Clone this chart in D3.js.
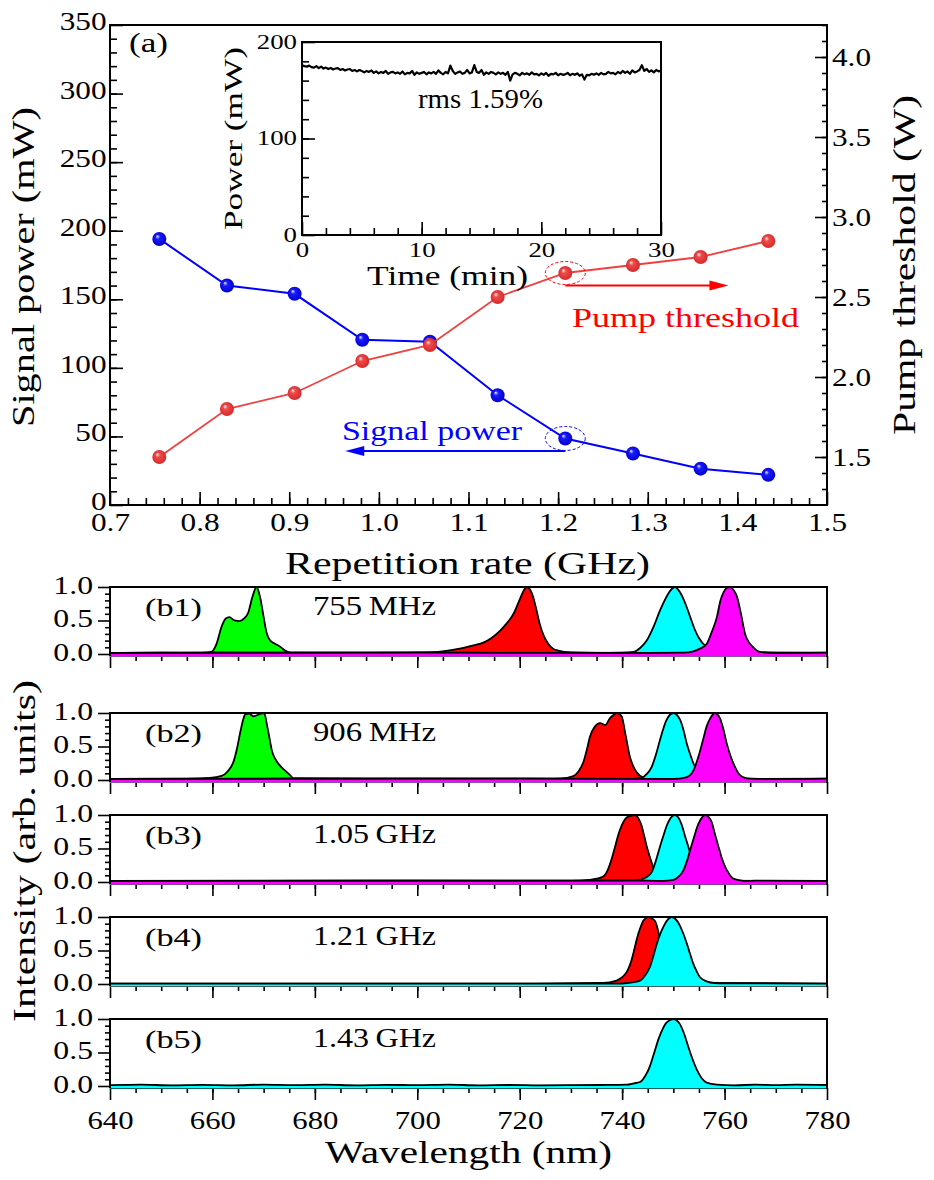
<!DOCTYPE html>
<html><head><meta charset="utf-8">
<script src="https://cdn.jsdelivr.net/npm/d3@7"></script>
<style>
body{margin:0;background:#fff;}
svg text{font-family:"Liberation Serif",serif;}
.tick line{stroke:#000;stroke-width:1.6;}
</style></head><body>
<svg id="c" width="934" height="1180"></svg>
<script>
// ---------------- DATA ----------------
const repRate = [0.755, 0.8305, 0.906, 0.9815, 1.057, 1.1325, 1.208, 1.2835, 1.359, 1.4345];
const signalPower = [194, 160, 154, 120.5, 119, 80, 48.5, 37.5, 26.5, 22];
const pumpThreshold = [1.50, 1.80, 1.90, 2.10, 2.20, 2.50, 2.65, 2.70, 2.75, 2.85];

const xTicksA = [0.7, 0.8, 0.9, 1.0, 1.1, 1.2, 1.3, 1.4, 1.5];
const xTickLabelsA = ["0.7","0.8","0.9","1.0","1.1","1.2","1.3","1.4","1.5"];
const yTicksA = [0, 50, 100, 150, 200, 250, 300, 350];
const yTickLabelsA = ["0","50","100","150","200","250","300","350"];
const y2TicksA = [1.5, 2.0, 2.5, 3.0, 3.5, 4.0];
const y2TickLabelsA = ["1.5","2.0","2.5","3.0","3.5","4.0"];

// inset: power stability (mW) sampled every 0.2 min over 30 min
const insetStep = 0.2;
const insetPower = [
 176,175,174.5,175.5,174,173.5,175,173,174.5,172.5,
 173.5,172,173,171.5,172.5,173,171,172,170.5,171.5,
 172,170,171,169.5,171,170,168.5,170,169,170.5,
 168,169.5,167.5,169,168,170,167,168.5,169,167.5,
 168.5,167,169.5,166.5,168,167.5,170,166,168.5,167,
 168,169,166.5,168.5,167.5,169,167,170.5,168,166.5,
 169,167.5,175.5,170,167,168.5,169.5,167,168,171,
 167.5,168.5,176,169,168,171,166,168.5,167,169,
 168,166.5,168.5,167,168,166,169,160,166.5,168,
 167,165.5,168,166.5,167.5,166,168.5,166.5,167,165.5,
 167.5,166,168,165,167,166.5,168,165.5,167,166,
 166.5,168,165.5,167,166,167.5,165,166.5,161,166,
 165.5,167,166,167.5,166,168,166.5,167,169,167.5,
 168,166.5,169,167.5,170,168,169.5,167,170.5,168.5,
 169.5,171,176,170,172,169,170.5,168.5,171,169.5,
 170.5];
const insetXTicks = [0, 10, 20, 30];
const insetXTickLabels = ["0","10","20","30"];
const insetYTicks = [0, 100, 200];
const insetYTickLabels = ["0","100","200"];

// spectra: [wavelength nm, normalized intensity]
const b1Green = [[640,0.015],[650,0.02],[658,0.015],[659.8,0.03],[660.8,0.15],[661.8,0.41],[662.6,0.53],[663.3,0.55],[664.3,0.5],[665.3,0.49],[666.2,0.53],[667,0.62],[667.8,0.85],[668.6,1.0],[669.3,0.85],[670,0.55],[670.6,0.31],[671.3,0.2],[672.3,0.15],[673.2,0.11],[674.2,0.05],[675.2,0.02],[690,0.015],[720,0.02],[750,0.015],[780,0.02]];
const b1Red = [[640,0.015],[660,0.02],[680,0.015],[695,0.02],[702,0.025],[705,0.04],[708.3,0.08],[711,0.13],[712.9,0.17],[714.5,0.24],[716.2,0.35],[717.5,0.46],[718.8,0.6],[720.1,0.83],[720.8,0.95],[721.4,1.0],[722.4,0.9],[723.2,0.68],[723.9,0.45],[724.7,0.27],[725.6,0.15],[726.5,0.08],[727.5,0.05],[730,0.025],[740,0.015],[760,0.02],[780,0.015]];
const b1Cyan = [[640,0.015],[700,0.02],[735,0.015],[740,0.02],[742.2,0.03],[743.5,0.09],[744.8,0.2],[746.1,0.4],[747.4,0.65],[748.3,0.8],[749,0.9],[750.3,1.0],[751.6,0.88],[752.5,0.72],[753.3,0.55],[754.1,0.38],[754.9,0.25],[756.5,0.1],[758,0.04],[760,0.02],[780,0.015]];
const b1Magenta = [[640,0.015],[700,0.02],[745,0.015],[752,0.02],[753.9,0.04],[755.2,0.08],[756.5,0.15],[757.5,0.33],[758.5,0.55],[759.2,0.8],[759.8,0.92],[760.5,0.99],[761.1,1.0],[761.7,0.96],[762.4,0.86],[763.2,0.6],[764,0.3],[764.8,0.17],[765.6,0.1],[766.9,0.03],[770,0.015],[780,0.02]];

const b2Green = [[640,0.015],[655,0.02],[659.5,0.03],[661.8,0.06],[663,0.13],[664.1,0.27],[664.8,0.47],[665.4,0.7],[666,0.9],[666.4,0.98],[667.2,0.99],[668,0.95],[668.8,0.97],[669.5,0.99],[670.1,1.0],[670.7,0.8],[671.2,0.6],[671.6,0.44],[672.3,0.31],[672.9,0.24],[673.6,0.18],[674.2,0.14],[675.2,0.07],[675.8,0.025],[690,0.015],[720,0.02],[780,0.015]];
const b2Red = [[640,0.015],[700,0.02],[725,0.015],[727.9,0.02],[730.5,0.06],[731.5,0.13],[732.4,0.26],[733.1,0.45],[733.7,0.64],[734.7,0.8],[735.7,0.85],[736.7,0.82],[737.6,0.92],[738.3,0.97],[738.9,1.0],[739.9,0.95],[740.6,0.7],[741.5,0.35],[742.2,0.2],[742.8,0.12],[744.1,0.04],[746,0.02],[760,0.015],[780,0.02]];
const b2Cyan = [[640,0.015],[720,0.02],[742,0.015],[743.8,0.03],[744.8,0.09],[745.8,0.2],[746.6,0.38],[747.4,0.6],[748.1,0.78],[748.7,0.9],[750,1.0],[751.3,0.9],[752,0.74],[752.6,0.55],[753.3,0.38],[753.9,0.25],[755.2,0.09],[756.5,0.04],[758,0.02],[780,0.015]];
const b2Magenta = [[640,0.015],[720,0.02],[750,0.015],[752.5,0.04],[753.9,0.14],[754.9,0.35],[755.8,0.6],[756.5,0.8],[757.2,0.92],[758.1,1.0],[759.1,0.92],[759.8,0.75],[760.4,0.55],[761.2,0.35],[762,0.2],[762.8,0.09],[763.7,0.04],[765,0.02],[770,0.015],[780,0.02]];

const b3Red = [[640,0.015],[700,0.02],[730,0.015],[733.7,0.03],[735,0.05],[736.3,0.08],[737.2,0.18],[737.9,0.33],[738.6,0.52],[739.2,0.69],[739.9,0.84],[740.6,0.94],[741.3,0.98],[741.9,0.99],[742.4,1.0],[742.8,0.99],[743.3,0.93],[743.8,0.84],[744.3,0.69],[744.8,0.53],[745.3,0.4],[745.8,0.28],[746.3,0.18],[746.8,0.1],[747.8,0.04],[750,0.02],[780,0.015]];
const b3Cyan = [[640,0.015],[735,0.02],[742,0.02],[743.5,0.03],[744.7,0.07],[745.8,0.15],[746.6,0.32],[747.4,0.53],[748.1,0.7],[748.7,0.84],[749.5,0.96],[750.3,1.0],[751,0.96],[751.6,0.86],[752.3,0.68],[752.9,0.53],[753.4,0.4],[753.9,0.28],[754.6,0.17],[755.2,0.1],[756.5,0.04],[758,0.02],[780,0.015]];
const b3Magenta = [[640,0.015],[745,0.02],[748,0.015],[750,0.03],[751,0.08],[752,0.18],[752.6,0.3],[753.3,0.48],[754,0.66],[754.6,0.81],[755.3,0.93],[756.3,1.0],[756.9,0.97],[757.5,0.89],[758.1,0.72],[758.8,0.53],[759.4,0.37],[760.1,0.23],[760.9,0.12],[761.7,0.05],[763,0.025],[764.3,0.015],[766,0.02],[780,0.015]];

const b4Red = [[640,0.005],[720,0.005],[736.3,0.015],[738.9,0.05],[740,0.1],[740.9,0.18],[741.6,0.3],[742.2,0.46],[742.7,0.62],[743.2,0.76],[743.7,0.87],[744.1,0.94],[744.6,0.98],[745.1,1.0],[745.8,0.98],[746.4,0.94],[747,0.8],[747.4,0.65],[748.3,0.35],[749.2,0.15],[750.5,0.05],[752,0.02],[780,0.005]];
const b4Cyan = [[640,0.005],[700,0.005],[738.9,0.005],[741,0.015],[743.5,0.05],[744.5,0.13],[745.4,0.25],[746.1,0.42],[746.8,0.61],[747.4,0.74],[748.1,0.86],[748.9,0.96],[749.7,1.0],[750.4,0.97],[751,0.91],[751.8,0.78],[752.6,0.61],[753.3,0.44],[753.9,0.3],[754.6,0.18],[755.2,0.1],[756.5,0.04],[758,0.015],[759.8,0.01],[780,0.005]];

const b5Cyan = [[640,0.012],[646,0.02],[652,0.01],[658,0.018],[664,0.01],[670,0.02],[676,0.012],[682,0.02],[688,0.01],[694,0.018],[700,0.012],[706,0.02],[712,0.01],[718,0.015],[724,0.01],[730,0.012],[736,0.015],[740.9,0.02],[742.3,0.04],[743.5,0.06],[744.5,0.15],[745.4,0.29],[746.2,0.48],[747.1,0.7],[747.9,0.85],[748.7,0.95],[750,1.0],[751.3,0.92],[752.1,0.78],[752.9,0.59],[753.7,0.41],[754.6,0.24],[755.5,0.12],[756.5,0.05],[758.5,0.02],[762,0.01],[766,0.02],[770,0.012],[774,0.02],[780,0.015]];

const panelLabels = ["(b1)","(b2)","(b3)","(b4)","(b5)"];
const panelRates = ["755\u2009MHz","906\u2009MHz","1.05\u2009GHz","1.21\u2009GHz","1.43\u2009GHz"];
const panelSpectra = [
  [["g",b1Green],["r",b1Red],["c",b1Cyan],["m",b1Magenta]],
  [["g",b2Green],["r",b2Red],["c",b2Cyan],["m",b2Magenta]],
  [["r",b3Red],["c",b3Cyan],["m",b3Magenta]],
  [["r",b4Red],["c",b4Cyan]],
  [["c",b5Cyan]]
];
const wlTicks = [640, 660, 680, 700, 720, 740, 760, 780];
const wlTickLabels = ["640","660","680","700","720","740","760","780"];
const intTicks = [0.0, 0.5, 1.0];
const intTickLabels = ["0.0","0.5","1.0"];

// ---------------- DRAWING ----------------
const FONT = "'Liberation Serif', serif";
const svg = d3.select("#c").attr("font-family", FONT);
svg.append("rect").attr("width",934).attr("height",1180).attr("fill","#fff");
const defs = svg.append("defs");
const colorMap = {g:"#00ff00", r:"#ff0000", c:"#00ffff", m:"#ff00ff"};

function ballGrad(id, c0, c1, c2){
  const g = defs.append("radialGradient").attr("id",id)
    .attr("cx","50%").attr("cy","50%").attr("r","55%").attr("fx","35%").attr("fy","30%");
  g.append("stop").attr("offset","0%").attr("stop-color",c0);
  g.append("stop").attr("offset","30%").attr("stop-color",c1);
  g.append("stop").attr("offset","100%").attr("stop-color",c2);
}
ballGrad("gBlue","#f0f0ff","#1a1aff","#0000c8");
ballGrad("gRed","#fff0f0","#f04a4a","#d02828");

function label(g, str, x, y, size, width, opts){
  opts = opts || {};
  const t = g.append("text").text(str).attr("font-family", FONT).attr("font-size", size).attr("fill", opts.fill || "#000");
  if (opts.rotate) t.attr("transform", `translate(${x},${y}) rotate(-90)`);
  else t.attr("x", x).attr("y", y);
  if (width) t.attr("textLength", width).attr("lengthAdjust", "spacingAndGlyphs");
  return t;
}
function styleTicks(ag, size, sx, dx, dy, anchor){
  ag.attr("font-family", FONT).attr("font-size", size);
  ag.select(".domain").remove();
  ag.selectAll(".tick text").each(function(){
    d3.select(this).attr("x",0).attr("y",0).attr("dy",null).attr("text-anchor",anchor)
      .attr("fill","#000").attr("transform",`translate(${dx},${dy}) scale(${sx},1)`);
  });
}
function minorAxis(g, axisFn, scale, vals, size, tx, ty){
  g.append("g").attr("transform",`translate(${tx},${ty})`)
    .call(axisFn(scale).tickValues(vals).tickSize(size).tickFormat(""))
    .call(a=>a.select(".domain").remove());
}

// ---- panel (a) ----
const L = 110, R = 827, T = 25, B = 505;
const xA = d3.scaleLinear().domain([0.7,1.5]).range([L,R]);
const yL = d3.scaleLinear().domain([0,350]).range([B,T]);
const yR = d3.scaleLinear().domain([1.2,4.2]).range([B,T]);
const gA = svg.append("g");

minorAxis(gA, d3.axisBottom, xA, d3.range(0.72,1.5,0.02), -7, 0, B);
const axB = gA.append("g").attr("transform",`translate(0,${B})`)
  .call(d3.axisBottom(xA).tickValues(xTicksA).tickSizeInner(-13).tickSizeOuter(0).tickFormat((d,i)=>xTickLabelsA[i]));
styleTicks(axB, 25, 1.25, 0, 26, "middle");

minorAxis(gA, d3.axisLeft, yL, d3.range(10,350,10), -7, L, 0);
const axL = gA.append("g").attr("transform",`translate(${L},0)`)
  .call(d3.axisLeft(yL).tickValues(yTicksA).tickSizeInner(-13).tickSizeOuter(0).tickFormat((d,i)=>yTickLabelsA[i]));
styleTicks(axL, 25, 1.25, -3.5, 4.5, "end");

minorAxis(gA, d3.axisRight, yR, d3.range(1.3,4.2,0.1), -5, R, 0);
const axR = gA.append("g").attr("transform",`translate(${R},0)`)
  .call(d3.axisRight(yR).tickValues(y2TicksA).tickSizeInner(-12).tickSizeOuter(0).tickFormat((d,i)=>y2TickLabelsA[i]));
styleTicks(axR, 25, 1.25, 5, 8.5, "start");

gA.append("rect").attr("x",L).attr("y",T).attr("width",R-L).attr("height",B-T)
  .attr("fill","none").attr("stroke","#000").attr("stroke-width",2);

label(gA, "Signal power (mW)", 34, 427, 32, 320, {rotate:true});
label(gA, "Pump threshold (W)", 915, 435, 32, 340, {rotate:true});
label(gA, "Repetition rate (GHz)", 285, 574, 32, 365);
label(gA, "(a)", 129, 52, 27, 39);

// series
const blueLine = d3.line().x((d,i)=>xA(repRate[i])).y(d=>yL(d));
const redLine = d3.line().x((d,i)=>xA(repRate[i])).y(d=>yR(d));
gA.append("path").attr("d",blueLine(signalPower)).attr("fill","none").attr("stroke","#0000ff").attr("stroke-width",2);
gA.selectAll(".bb").data(signalPower).enter().append("circle")
  .attr("cx",(d,i)=>xA(repRate[i])).attr("cy",d=>yL(d)).attr("r",7).attr("fill","url(#gBlue)");
gA.append("path").attr("d",redLine(pumpThreshold)).attr("fill","none").attr("stroke","#f04040").attr("stroke-width",1.8);
gA.selectAll(".rb").data(pumpThreshold).enter().append("circle")
  .attr("cx",(d,i)=>xA(repRate[i])).attr("cy",d=>yR(d)).attr("r",7).attr("fill","url(#gRed)");

// annotations
const pxR = xA(repRate[6]), pyR = yR(pumpThreshold[6]);
const pxB = xA(repRate[6]), pyB = yL(signalPower[6]);
gA.append("ellipse").attr("cx",pxR).attr("cy",pyR).attr("rx",20).attr("ry",11.5)
  .attr("fill","none").attr("stroke","#ff0000").attr("stroke-width",1).attr("stroke-dasharray","3,2");
gA.append("ellipse").attr("cx",pxB).attr("cy",pyB).attr("rx",20).attr("ry",12)
  .attr("fill","none").attr("stroke","#0000ff").attr("stroke-width",1).attr("stroke-dasharray","3,2");
const ryA = pyR + 12.5, rEnd = xA(1.39);
gA.append("line").attr("x1",pxR).attr("x2",rEnd-15).attr("y1",ryA).attr("y2",ryA).attr("stroke","#ff0000").attr("stroke-width",2);
gA.append("path").attr("d",`M${rEnd},${ryA} L${rEnd-19},${ryA-5} L${rEnd-19},${ryA+5} Z`).attr("fill","#ff0000");
const byA = pyB + 12.5, bEnd = xA(0.9625);
gA.append("line").attr("x1",pxB).attr("x2",bEnd+15).attr("y1",byA).attr("y2",byA).attr("stroke","#0000ff").attr("stroke-width",2);
gA.append("path").attr("d",`M${bEnd},${byA} L${bEnd+19},${byA-5} L${bEnd+19},${byA+5} Z`).attr("fill","#0000ff");
label(gA, "Pump threshold", 572, 327, 27, 227, {fill:"#ff0000"});
label(gA, "Signal power", 342, 440, 27, 180, {fill:"#0000ff"});

// ---- inset ----
const iL = 302, iR = 661, iT = 42, iB = 235;
const xI = d3.scaleLinear().domain([0,30]).range([iL,iR]);
const yI = d3.scaleLinear().domain([0,200]).range([iB,iT]);
const gI = svg.append("g");
gI.append("rect").attr("x",iL).attr("y",iT).attr("width",iR-iL).attr("height",iB-iT).attr("fill","#fff");
minorAxis(gI, d3.axisBottom, xI, d3.range(2,30,2), -7, 0, iB);
const aiB = gI.append("g").attr("transform",`translate(0,${iB})`)
  .call(d3.axisBottom(xI).tickValues(insetXTicks).tickSizeInner(-13).tickSizeOuter(0).tickFormat((d,i)=>insetXTickLabels[i]));
styleTicks(aiB, 22, 1.22, 0, 22, "middle");
minorAxis(gI, d3.axisLeft, yI, d3.range(20,200,20), -7, iL, 0);
const aiL = gI.append("g").attr("transform",`translate(${iL},0)`)
  .call(d3.axisLeft(yI).tickValues(insetYTicks).tickSizeInner(-13).tickSizeOuter(0).tickFormat((d,i)=>insetYTickLabels[i]));
styleTicks(aiL, 22, 1.22, -5, 6, "end");
const insetLine = d3.line().x((d,i)=>xI(i*insetStep)).y(d=>yI(d));
gI.append("path").attr("d",insetLine(insetPower)).attr("fill","none").attr("stroke","#000").attr("stroke-width",2.2).attr("stroke-linejoin","round");
gI.append("rect").attr("x",iL).attr("y",iT).attr("width",iR-iL).attr("height",iB-iT)
  .attr("fill","none").attr("stroke","#000").attr("stroke-width",2);
label(gI, "Power (mW)", 242, 230, 26, 183, {rotate:true});
label(gI, "Time (min)", 367, 285, 27, 161);
label(gI, "rms 1.59%", 418, 108, 27, 125);

// ---- spectra panels ----
const pL = 110, pR = 827, pH = 69;
const panelTops = [587, 713, 815, 917, 1019];
const xW = d3.scaleLinear().domain([640,780]).range([pL,pR]);
panelSpectra.forEach((specs, p) => {
  const top = panelTops[p], bot = top + pH;
  const yS = d3.scaleLinear().domain([-0.03,1.0]).range([bot, top]);
  const g = svg.append("g");
  minorAxis(g, d3.axisBottom, xW, d3.range(645,780,5), 5, 0, bot);
  const ab = g.append("g").attr("transform",`translate(0,${bot})`)
    .call(d3.axisBottom(xW).tickValues(wlTicks).tickSizeInner(12).tickSizeOuter(0)
      .tickFormat((d,i)=> p===4 ? wlTickLabels[i] : ""));
  styleTicks(ab, 25, 1.23, 0, 41, "middle");
  g.append("line").attr("x1",pL).attr("x2",pR).attr("y1",bot).attr("y2",bot).attr("stroke","#000").attr("stroke-width",2);
  const area = d3.area().x(d=>xW(d[0])).y0(yS(-0.03)).y1(d=>yS(d[1])).curve(d3.curveMonotoneX);
  const line = d3.line().x(d=>xW(d[0])).y(d=>yS(d[1])).curve(d3.curveMonotoneX);
  specs.forEach(([c, data]) => {
    g.append("path").attr("d", area(data)).attr("fill", colorMap[c]).attr("stroke", colorMap[c]).attr("stroke-width",0.8);
    g.append("path").attr("d", line(data)).attr("fill","none").attr("stroke","#000").attr("stroke-width",1.8);
  });
  minorAxis(g, d3.axisLeft, yS, [0.1,0.2,0.3,0.4,0.6,0.7,0.8,0.9], 5, pL, 0);
  const al = g.append("g").attr("transform",`translate(${pL},0)`)
    .call(d3.axisLeft(yS).tickValues(intTicks).tickSizeInner(12).tickSizeOuter(0).tickFormat((d,i)=>intTickLabels[i]));
  styleTicks(al, 25, 1.27, -17, 6.5, "end");
  g.append("path").attr("d",`M${pL},${bot} L${pL},${top} L${pR},${top} L${pR},${bot+1}`)
    .attr("fill","none").attr("stroke","#000").attr("stroke-width",2);
  label(g, panelLabels[p], 145, top+28.5, 26, 57);
  label(g, panelRates[p], 313, top+28, 27, 123);
});
label(svg, "Intensity (arb. units)", 35, 1022, 32, 342, {rotate:true});
label(svg, "Wavelength (nm)", 325, 1163, 32, 287);
</script>
</body></html>
